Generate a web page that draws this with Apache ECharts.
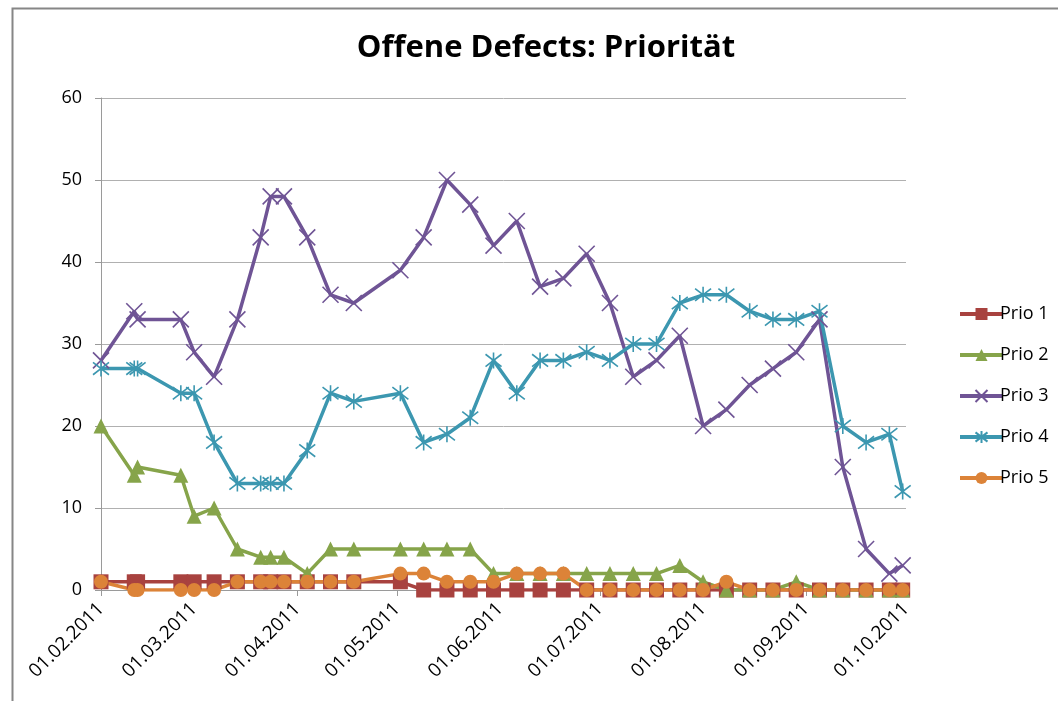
<!DOCTYPE html>
<html>
<head>
<meta charset="utf-8">
<script src="https://cdn.jsdelivr.net/npm/echarts@6/dist/echarts.min.js"></script>
<style>
html,body{margin:0;padding:0;background:#fff;}
#c{width:1058px;height:701px;}
</style>
</head>
<body>
<div id="c"></div>
<script>
// ---- data ----
var dates = ['2011-02-01','2011-02-11','2011-02-12','2011-02-25','2011-03-01','2011-03-07','2011-03-14',
  '2011-03-21','2011-03-24','2011-03-28','2011-04-04','2011-04-11','2011-04-18','2011-05-02','2011-05-09',
  '2011-05-16','2011-05-23','2011-05-30','2011-06-06','2011-06-13','2011-06-20','2011-06-27','2011-07-04',
  '2011-07-11','2011-07-18','2011-07-25','2011-08-01','2011-08-08','2011-08-15','2011-08-22','2011-08-29',
  '2011-09-05','2011-09-12','2011-09-19','2011-09-26','2011-09-30'];
var prio1 = [1,1,1,1,1,1,1,1,1,1,1,1,1,1,0,0,0,0,0,0,0,0,0,0,0,0,0,0,0,0,0,0,0,0,0,0];
var prio2 = [20,14,15,14,9,10,5,4,4,4,2,5,5,5,5,5,5,2,2,2,2,2,2,2,2,3,1,0,0,0,1,0,0,0,0,0];
var prio3 = [28,34,33,33,29,26,33,43,48,48,43,36,35,39,43,50,47,42,45,37,38,41,35,26,28,31,20,22,25,27,29,33,15,5,2,3];
var prio4 = [27,27,27,24,24,18,13,13,13,13,17,24,23,24,18,19,21,28,24,28,28,29,28,30,30,35,36,36,34,33,33,34,20,18,19,12];
var prio5 = [1,0,0,0,0,0,1,1,1,1,1,1,1,2,2,1,1,1,2,2,2,0,0,0,0,0,0,1,0,0,0,0,0,0,0,0];
var seriesNames = ['Prio 1','Prio 2','Prio 3','Prio 4','Prio 5'];
var axisMin = '2011-02-01';
var axisMax = '2011-10-01';
var yTicks = [0,10,20,30,40,50,60];

// ---- chart ----
var colors = ['#A8423F','#86A44A','#6F5495','#3C97B0','#DC8338'];
var symbols = [
  'rect',
  'triangle',
  'path://M0,0L10,10M10,0L0,10',
  'path://M0,0L10,10M10,0L0,10M5,-1.5L5,11.5',
  'circle'
];
var sizes = [15, 15, 16, 16, 14];
var allData = [prio1, prio2, prio3, prio4, prio5];

function pairs(vals){ return dates.map(function(d,i){ return [d, vals[i]]; }); }

var series = allData.map(function(vals, i){
  var isPath = i === 2 || i === 3;
  return {
    name: seriesNames[i],
    type: 'line',
    data: pairs(vals),
    symbol: symbols[i],
    symbolSize: sizes[i],
    showAllSymbol: true,
    lineStyle: {color: colors[i], width: 3.5},
    itemStyle: isPath ? {color: colors[i], borderColor: colors[i], borderWidth: 1.6}
                      : {color: colors[i], borderColor: colors[i], borderWidth: 0},
    emphasis: {disabled: true},
    animation: false
  };
});

var chart = echarts.init(document.getElementById('c'), null, {renderer: 'canvas'});
var font = '"Open Sans", "Liberation Sans", sans-serif';
chart.setOption({
  animation: false,
  textStyle: {fontFamily: font},
  title: {
    text: 'Offene Defects: Priorität',
    left: 541, top: 28, textAlign: 'center',
    textStyle: {fontFamily: font, fontWeight: 'bold', fontSize: 31, color: '#000'}
  },
  graphic: [{
    type: 'rect', silent: true,
    shape: {x: 12.5, y: 8.5, width: 1100, height: 800},
    style: {fill: 'none', stroke: '#868686', lineWidth: 2}
  }],
  legend: {
    orient: 'vertical',
    left: 953, top: 300,
    itemWidth: 43, itemHeight: 15, itemGap: 23,
    lineStyle: {width: 4},
    textStyle: {fontFamily: font, fontSize: 18, color: '#000', padding: [0,0,0,-8]},
    data: seriesNames
  },
  grid: {left: 101, right: 152, top: 98, bottom: 111, containLabel: false},
  xAxis: {
    type: 'time',
    min: axisMin, max: axisMax,
    splitNumber: 8,
    minInterval: 28 * 86400000,
    maxInterval: 31 * 86400000,
    axisLine: {show: true, lineStyle: {color: '#9a9a9a', width: 1}},
    axisTick: {show: true, length: 6, lineStyle: {color: '#9a9a9a'}},
    splitLine: {show: false},
    axisLabel: {
      rotate: 45, fontSize: 19, color: '#000', margin: 16, fontFamily: font,
      showMinLabel: true, showMaxLabel: true, hideOverlap: false,
      formatter: function(v){ return echarts.time.format(v, '{dd}.{MM}.{yyyy}', false); }
    }
  },
  yAxis: {
    type: 'value',
    min: yTicks[0], max: yTicks[yTicks.length-1], interval: 10,
    axisLine: {show: true, lineStyle: {color: '#9a9a9a', width: 1}},
    axisTick: {show: true, length: 6, lineStyle: {color: '#9a9a9a'}},
    splitLine: {show: true, lineStyle: {color: '#b0b0b0', width: 1}},
    axisLabel: {fontSize: 18, color: '#000', margin: 19, fontFamily: font}
  },
  series: series
});
</script>
</body>
</html>
